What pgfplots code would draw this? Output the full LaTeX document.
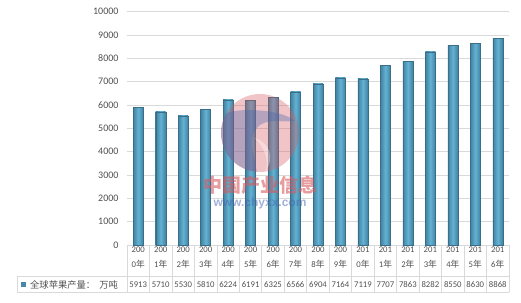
\documentclass[border=0pt]{standalone}
\usepackage{fontspec}
\setmainfont{Carlito}
\newfontfamily\cjk{Noto Sans CJK SC}
\newfontfamily\lsans{Liberation Sans}
\usepackage{pgfplots}
\usepackage{pgfplotstable}
\pgfplotsset{compat=1.18}
\definecolor{barE}{RGB}{66,130,160}
\definecolor{barM}{RGB}{100,178,212}
\definecolor{gridc}{RGB}{217,217,217}
\definecolor{txt}{RGB}{80,80,80}
\definecolor{wmred}{RGB}{215,90,95}
\definecolor{wmblue}{RGB}{70,100,175}
\newcommand\nian{{\cjk 年}}
\pgfplotstableread{
x val
0 5913
1 5710
2 5530
3 5810
4 6224
5 6191
6 6325
7 6566
8 6904
9 7164
10 7119
11 7707
12 7863
13 8282
14 8550
15 8630
16 8868
}\data
\begin{document}
\begin{tikzpicture}
\useasboundingbox (-127bp,-58bp) rectangle (394bp,245bp);
\begin{axis}[
  at={(0,0)}, anchor=south west,
  scale only axis, width=382bp, height=233.3bp,
  xmin=-0.5, xmax=16.5, ymin=0, ymax=10000,
  ytick={0,1000,...,10000},
  scaled y ticks=false,
  /pgf/number format/1000 sep={},
  /pgf/number format/assume math mode=true,
  ymajorgrids, grid style={gridc, line width=0.7bp},
  axis line style={draw=none}, tick style={draw=none},
  yticklabel style={font=\fontsize{10bp}{12bp}\selectfont, text=txt, xshift=-5bp},
  xtick={0,...,16},
  xticklabels={{200\\0\nian},{200\\1\nian},{200\\2\nian},{200\\3\nian},{200\\4\nian},{200\\5\nian},{200\\6\nian},{200\\7\nian},{200\\8\nian},{200\\9\nian},{201\\0\nian},{201\\1\nian},{201\\2\nian},{201\\3\nian},{201\\4\nian},{201\\5\nian},{201\\6\nian}},
  xticklabel style={font=\fontsize{8.7bp}{15bp}\selectfont, text=txt, align=center, anchor=north, yshift=2bp},
  clip=false,
]
\pgfplotsinvokeforeach{0,...,16}{
\addplot[ybar, bar width=10bp, draw=barE!85!black, line width=0.4bp,
  left color=barE, right color=barE, middle color=barM,
  x filter/.expression={abs(x-#1)<0.2 ? x : nan}]
  table[x=x, y=val]{\data};
}
\addplot[draw=none, mark=none, nodes near coords, point meta=explicit symbolic,
  every node near coord/.append style={anchor=center, yshift=-39.5bp,
    font=\fontsize{8.7bp}{10bp}\selectfont, text=txt, inner sep=0pt}]
  table[x=x, y expr=0, meta=val]{\data};
% table lines
\pgfplotsinvokeforeach{-0.5,0.5,...,16.5}{
  \draw[gridc, line width=0.7bp] (axis cs:#1,0) -- ([yshift=-47bp]axis cs:#1,0);
}
\draw[gridc, line width=0.7bp] ([xshift=-110bp,yshift=-31bp]axis cs:-0.5,0) -- ([yshift=-31bp]axis cs:16.5,0);
\draw[gridc, line width=0.7bp] ([xshift=-110bp,yshift=-47bp]axis cs:-0.5,0) -- ([yshift=-47bp]axis cs:16.5,0);
\draw[gridc, line width=0.7bp] ([xshift=-110bp,yshift=-31bp]axis cs:-0.5,0) -- ([xshift=-110bp,yshift=-47bp]axis cs:-0.5,0);
\fill[barE!85!barM] ([xshift=-105.5bp,yshift=-37bp]axis cs:-0.5,0) rectangle ([xshift=-100.5bp,yshift=-42bp]axis cs:-0.5,0);
\node[anchor=west, inner sep=0pt, text=txt, font=\fontsize{9.3bp}{10bp}\selectfont\cjk] at ([xshift=-97bp,yshift=-39.5bp]axis cs:-0.5,0) {全球苹果产量：\hspace{4bp}万吨};
\end{axis}
% watermark
\begin{scope}[shift={(133bp,112bp)}]
  \fill[wmred, opacity=0.35] (0,0) circle (39bp);
  \fill[wmblue, opacity=0.35] (150:39bp) arc (150:265:39bp) .. controls (-5bp,-20bp) and (-15bp,-5bp) .. (0bp,8bp) .. controls (10bp,15bp) and (25bp,10bp) .. (35bp,12bp) .. controls (20bp,25bp) and (-25bp,25bp) .. (150:39bp);
  \fill[white, opacity=0.35] (-5bp,-5bp) .. controls (5bp,-15bp) and (10bp,-30bp) .. (5bp,-39bp) .. controls (15bp,-25bp) and (10bp,-10bp) .. (-5bp,-5bp);
\end{scope}
\node[text=wmred, opacity=0.6, font=\fontsize{19bp}{21bp}\selectfont\cjk\bfseries] at (133bp,60bp) {中国产业信息};
\node[text=wmblue, opacity=0.5, font=\fontsize{12bp}{14bp}\selectfont\lsans\bfseries] at (133bp,42bp) {www.chyxx.com};
\end{tikzpicture}
\end{document}
